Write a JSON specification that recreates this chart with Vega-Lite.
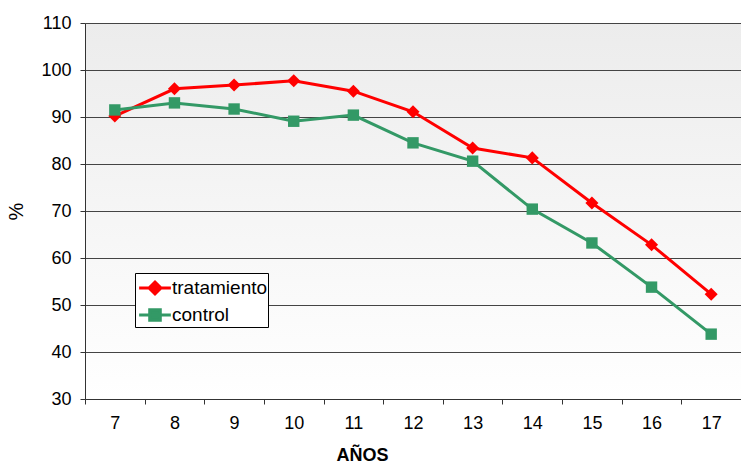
{
  "$schema": "https://vega.github.io/schema/vega-lite/v6.json",
  "width": 656,
  "height": 376,
  "autosize": "none",
  "padding": {"left": 85, "top": 23, "right": 0, "bottom": 65},
  "background": "#ffffff",
  "config": {
    "font": "Liberation Sans",
    "view": {
      "stroke": null,
      "fill": {
        "gradient": "linear",
        "x1": 0, "y1": 0, "x2": 0, "y2": 1,
        "stops": [
          {"offset": 0, "color": "#ececec"},
          {"offset": 1, "color": "#ffffff"}
        ]
      }
    },
    "axis": {
      "labelFont": "Liberation Sans",
      "labelFontSize": 18,
      "labelColor": "#000000",
      "titleFont": "Liberation Sans",
      "titleColor": "#000000",
      "domainColor": "#333333",
      "tickColor": "#333333",
      "tickSize": 5,
      "gridColor": "#444444",
      "gridWidth": 1
    }
  },
  "data": {
    "values": [
      {"anos": 7, "serie": "tratamiento", "valor": 90.2},
      {"anos": 8, "serie": "tratamiento", "valor": 96.0},
      {"anos": 9, "serie": "tratamiento", "valor": 96.8},
      {"anos": 10, "serie": "tratamiento", "valor": 97.7},
      {"anos": 11, "serie": "tratamiento", "valor": 95.5},
      {"anos": 12, "serie": "tratamiento", "valor": 91.1},
      {"anos": 13, "serie": "tratamiento", "valor": 83.4},
      {"anos": 14, "serie": "tratamiento", "valor": 81.3},
      {"anos": 15, "serie": "tratamiento", "valor": 71.7},
      {"anos": 16, "serie": "tratamiento", "valor": 62.8},
      {"anos": 17, "serie": "tratamiento", "valor": 52.3},
      {"anos": 7, "serie": "control", "valor": 91.5},
      {"anos": 8, "serie": "control", "valor": 93.0},
      {"anos": 9, "serie": "control", "valor": 91.7},
      {"anos": 10, "serie": "control", "valor": 89.1},
      {"anos": 11, "serie": "control", "valor": 90.4},
      {"anos": 12, "serie": "control", "valor": 84.5},
      {"anos": 13, "serie": "control", "valor": 80.6},
      {"anos": 14, "serie": "control", "valor": 70.4},
      {"anos": 15, "serie": "control", "valor": 63.2},
      {"anos": 16, "serie": "control", "valor": 53.8},
      {"anos": 17, "serie": "control", "valor": 43.8}
    ]
  },
  "encoding": {
    "x": {
      "field": "anos",
      "type": "ordinal",
      "scale": {"paddingInner": 0, "paddingOuter": 0},
      "axis": {
        "title": "AÑOS",
        "titleFontSize": 18,
        "titleFontWeight": "bold",
        "titleX": 277,
        "titleY": 47,
        "labelAngle": 0,
        "labelPadding": 10,
        "tickBand": "extent",
        "grid": false
      }
    },
    "y": {
      "field": "valor",
      "type": "quantitative",
      "scale": {"domain": [30, 110], "nice": false, "zero": false},
      "axis": {
        "title": "%",
        "titleFontSize": 20,
        "titleFontWeight": "normal",
        "titleX": -59,
        "titleY": 188,
        "values": [30, 40, 50, 60, 70, 80, 90, 100, 110],
        "labelPadding": 9,
        "grid": true
      }
    },
    "color": {
      "field": "serie",
      "type": "nominal",
      "scale": {"domain": ["tratamiento", "control"], "range": ["#ff0000", "#339966"]},
      "legend": {
        "title": null,
        "orient": "none",
        "legendX": 50,
        "legendY": 250,
        "fillColor": "#ffffff",
        "strokeColor": "#000000",
        "padding": 0,
        "labelFontSize": 19,
        "labelFont": "Liberation Sans",
        "labelColor": "#000000",
        "labelOffset": 2,
        "labelExpr": "datum.label + '  '",
        "symbolOffset": 5,
        "symbolSize": 700,
        "rowPadding": 0,
        "symbolStrokeWidth": 3,
        "encode": {
          "symbols": {
            "update": {
              "shape": {"signal": "datum.value === 'tratamiento' ? 'M-1.2,0H1.2M0,-0.45L0.45,0L0,0.45L-0.45,0Z' : 'M-1.2,0H1.2M-0.4,-0.4H0.4V0.4H-0.4Z'"},
              "fill": {"signal": "datum.value === 'tratamiento' ? '#ff0000' : '#339966'"},
              "stroke": {"signal": "datum.value === 'tratamiento' ? '#ff0000' : '#339966'"},
              "strokeWidth": {"value": 3},
              "opacity": {"value": 1}
            }
          }
        }
      }
    }
  },
  "layer": [
    {
      "mark": {"type": "line", "strokeWidth": 3}
    },
    {
      "transform": [{"filter": "datum.serie === 'tratamiento'"}],
      "mark": {"type": "point", "shape": "diamond", "size": 170, "filled": true, "opacity": 1}
    },
    {
      "transform": [{"filter": "datum.serie === 'control'"}],
      "mark": {"type": "point", "shape": "square", "size": 130, "filled": true, "opacity": 1}
    }
  ]
}
